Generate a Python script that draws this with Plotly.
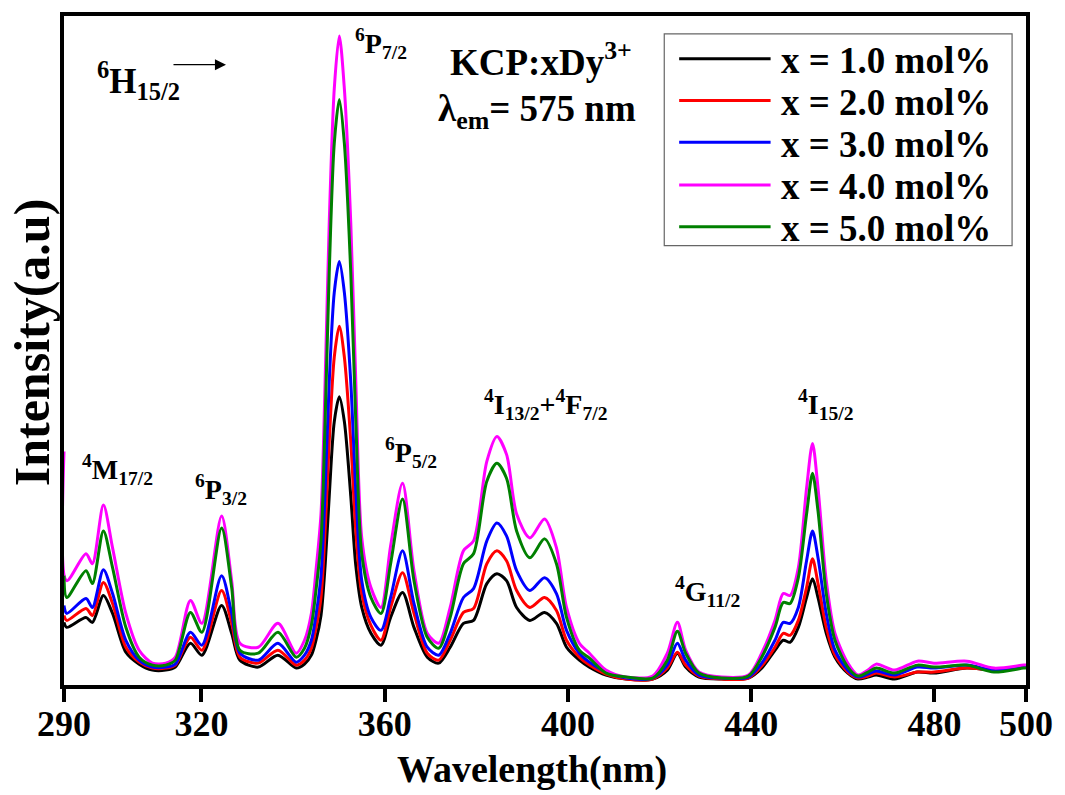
import plotly.graph_objects as go

# ---------------- data ----------------
wavelength = [290.0, 290.6, 294.8, 296.2, 298.6, 300.6, 303.5, 306.4, 309.3, 312.2,
              314.3, 317.6, 320.1, 324.4, 326.6, 328.4, 332.4, 336.7, 340.7, 342.5,
              344.0, 345.0, 346.1, 347.0, 347.9, 349.0, 350.1, 351.2, 352.6, 353.7,
              355.0, 357.0, 359.2, 361.3, 363.9, 366.4, 369.3, 371.8, 374.3, 377.2,
              379.4, 382.3, 384.5, 386.6, 388.8, 391.7, 394.9, 397.5, 399.7, 402.5,
              404.7, 408.3, 412.7, 418.5, 421.7, 423.9, 425.7, 428.6, 433.6, 439.4,
              442.3, 445.2, 447.0, 448.5, 450.3, 452.1, 453.4, 454.6, 456.4, 458.3,
              461.1, 463.3, 465.5, 467.3, 471.3, 476.3, 479.9, 487.1, 493.0, 499.5,
              500.0]

x1_0 = [63, 58, 68, 63, 90, 72, 33, 21, 15, 15,
        18, 42, 30, 80, 52, 25, 18, 30, 17, 21,
        30, 45, 70, 120, 190, 265, 290, 265, 190, 120,
        78, 52, 40, 68, 93, 58, 28, 22, 38, 62,
        65, 102, 112, 105, 78, 65, 73, 62, 38, 25,
        18, 10, 6, 6, 15, 32, 18, 8, 6, 7,
        17, 35, 45, 43, 58, 88, 107, 88, 52, 28,
        12, 6, 8, 10, 6, 13, 12, 17, 15, 18,
        18]

x2_0 = [70, 65, 77, 70, 103, 82, 38, 23, 17, 17,
        20, 48, 35, 95, 62, 28, 22, 35, 20, 25,
        37, 57, 88, 155, 245, 330, 361, 330, 245, 155,
        92, 60, 45, 78, 113, 72, 32, 25, 45, 73,
        77, 122, 135, 125, 95, 78, 88, 75, 45, 28,
        20, 11, 6, 6, 17, 33, 20, 9, 6, 7,
        19, 38, 52, 50, 65, 98, 127, 102, 58, 30,
        13, 7, 9, 12, 8, 13, 13, 17, 15, 18,
        18]

x3_0 = [80, 72, 87, 78, 116, 92, 45, 25, 18, 18,
        21, 53, 40, 110, 72, 32, 25, 42, 23, 30,
        45, 70, 110, 195, 305, 395, 426, 395, 305, 195,
        105, 68, 55, 88, 135, 82, 38, 30, 52, 88,
        97, 145, 163, 150, 115, 95, 108, 92, 55, 32,
        23, 13, 7, 7, 20, 42, 25, 10, 7, 8,
        22, 45, 63, 62, 78, 125, 155, 128, 72, 35,
        15, 8, 11, 14, 10, 18, 17, 20, 15, 18,
        18]

x4_0 = [235, 105, 132, 122, 181, 138, 72, 35, 22, 22,
        28, 85, 62, 170, 105, 42, 38, 62, 32, 45,
        72, 115, 172, 305, 465, 600, 653, 600, 465, 305,
        148, 98, 78, 140, 203, 115, 52, 42, 78, 135,
        145, 225, 250, 232, 172, 148, 167, 138, 78, 42,
        32, 15, 8, 9, 32, 63, 35, 13, 8, 10,
        32, 65, 92, 90, 118, 198, 243, 198, 105, 52,
        22, 10, 15, 21, 15, 24, 22, 24, 17, 20,
        20]

x5_0 = [110, 88, 115, 102, 155, 118, 58, 28, 20, 20,
        25, 73, 53, 158, 98, 35, 32, 53, 28, 37,
        60, 95, 145, 265, 415, 545, 589, 545, 415, 265,
        132, 88, 72, 122, 187, 105, 48, 37, 68, 122,
        132, 205, 223, 208, 155, 128, 147, 122, 68, 35,
        27, 12, 8, 7, 25, 54, 32, 12, 7, 9,
        28, 58, 83, 82, 108, 172, 213, 175, 92, 45,
        18, 9, 13, 17, 12, 20, 18, 20, 13, 17,
        17]

series_names = ["x = 1.0 mol%", "x = 2.0 mol%", "x = 3.0 mol%",
                "x = 4.0 mol%", "x = 5.0 mol%"]
series_values = [x1_0, x2_0, x3_0, x4_0, x5_0]
series_colors = ["#000000", "#ff0000", "#0000ff", "#ff00ff", "#008000"]

tick_values = [290, 320, 360, 400, 440, 480, 500]
tick_labels = ["290", "320", "360", "400", "440", "480", "500"]

# ---------------- geometry helpers ----------------
W, H = 1065, 795
L, R, T, B = 64, 1032, 12, 685  # plot area in pixels


def px(xp):
    return (xp - L) / (R - L)


def py(yp):
    return (B - yp) / (B - T)


FONT = "Liberation Serif, Times New Roman, serif"

fig = go.Figure()
for name, vals, col in zip(series_names, series_values, series_colors):
    fig.add_trace(go.Scatter(x=wavelength, y=vals, mode="lines", name=name,
                             line=dict(color=col, width=3, shape="spline",
                                       smoothing=0.8),
                             showlegend=False))

annotations = []
shapes = []

# custom legend (box, line samples, labels)
shapes.append(dict(type="rect", xref="paper", yref="paper",
                   x0=px(668), x1=px(1018), y0=py(243), y1=py(30),
                   line=dict(color="#666666", width=1.2),
                   fillcolor="white", layer="above"))
row_y = [55, 97, 139, 182, 224]
for name, col, ry in zip(series_names, series_colors, row_y):
    shapes.append(dict(type="line", xref="paper", yref="paper",
                       x0=px(683), x1=px(775), y0=py(ry), y1=py(ry),
                       line=dict(color=col, width=3), layer="above"))
    annotations.append(dict(xref="paper", yref="paper", x=px(783), y=py(ry + 2),
                            xanchor="left", yanchor="middle", showarrow=False,
                            text="<b>%s</b>" % name,
                            font=dict(family=FONT, size=37, color="black")))

# peak / transition labels
labels = [
    ("<b><sup>6</sup>H<sub>15/2</sub></b>", 95, 77, 35),
    ("<b><sup>6</sup>P<sub>7/2</sub></b>", 355, 40, 28),
    ("<b><sup>4</sup>M<sub>17/2</sub></b>", 80, 468, 28),
    ("<b><sup>6</sup>P<sub>3/2</sub></b>", 194, 488, 28),
    ("<b><sup>6</sup>P<sub>5/2</sub></b>", 385, 451, 28),
    ("<b><sup>4</sup>I<sub>13/2</sub>+<sup>4</sup>F<sub>7/2</sub></b>", 485, 403, 28),
    ("<b><sup>4</sup>G<sub>11/2</sub></b>", 677, 591, 28),
    ("<b><sup>4</sup>I<sub>15/2</sub></b>", 801, 403, 28),
    ("<b>KCP:xDy<sup>3+</sup></b>", 450, 56, 37),
    ("<b>λ<sub>em</sub>= 575 nm</b>", 438, 108, 37),
]
for txt, xp, yp, fs in labels:
    annotations.append(dict(xref="paper", yref="paper", x=px(xp), y=py(yp),
                            xanchor="left", yanchor="middle", showarrow=False,
                            text=txt, font=dict(family=FONT, size=fs, color="black")))

# arrow after 6H15/2
annotations.append(dict(xref="paper", yref="paper", x=px(227), y=py(61),
                        ax=-54, ay=0, text="", showarrow=True,
                        arrowhead=2, arrowsize=1.7, arrowwidth=1.3,
                        arrowcolor="black"))

# axis titles
annotations.append(dict(xref="paper", yref="paper", x=px(535), y=py(770),
                        xanchor="center", yanchor="middle", showarrow=False,
                        text="<b>Wavelength(nm)</b>",
                        font=dict(family=FONT, size=38, color="black")))
annotations.append(dict(xref="paper", yref="paper", x=px(32), y=py(340),
                        xanchor="center", yanchor="middle", showarrow=False,
                        textangle=-90, text="<b>Intensity(a.u)</b>",
                        font=dict(family=FONT, size=50, color="black")))

fig.update_layout(
    width=W, height=H,
    margin=dict(l=L, r=W - R, t=T, b=H - B, pad=0),
    paper_bgcolor="white", plot_bgcolor="white",
    showlegend=False,
    annotations=annotations, shapes=shapes,
    xaxis=dict(range=[290, 500], tickmode="array", tickvals=tick_values,
               ticktext=["<b>%s</b>" % t for t in tick_labels],
               tickfont=dict(family=FONT, size=36, color="black"),
               ticks="outside", ticklen=13, tickwidth=4, tickcolor="black",
               ticklabelstandoff=-9,
               showline=True, linewidth=4, linecolor="black", mirror=True,
               showgrid=False, zeroline=False),
    yaxis=dict(range=[0, 673], showticklabels=False, ticks="",
               showline=True, linewidth=4, linecolor="black", mirror=True,
               showgrid=False, zeroline=False),
)

fig.write_html("out.html")
